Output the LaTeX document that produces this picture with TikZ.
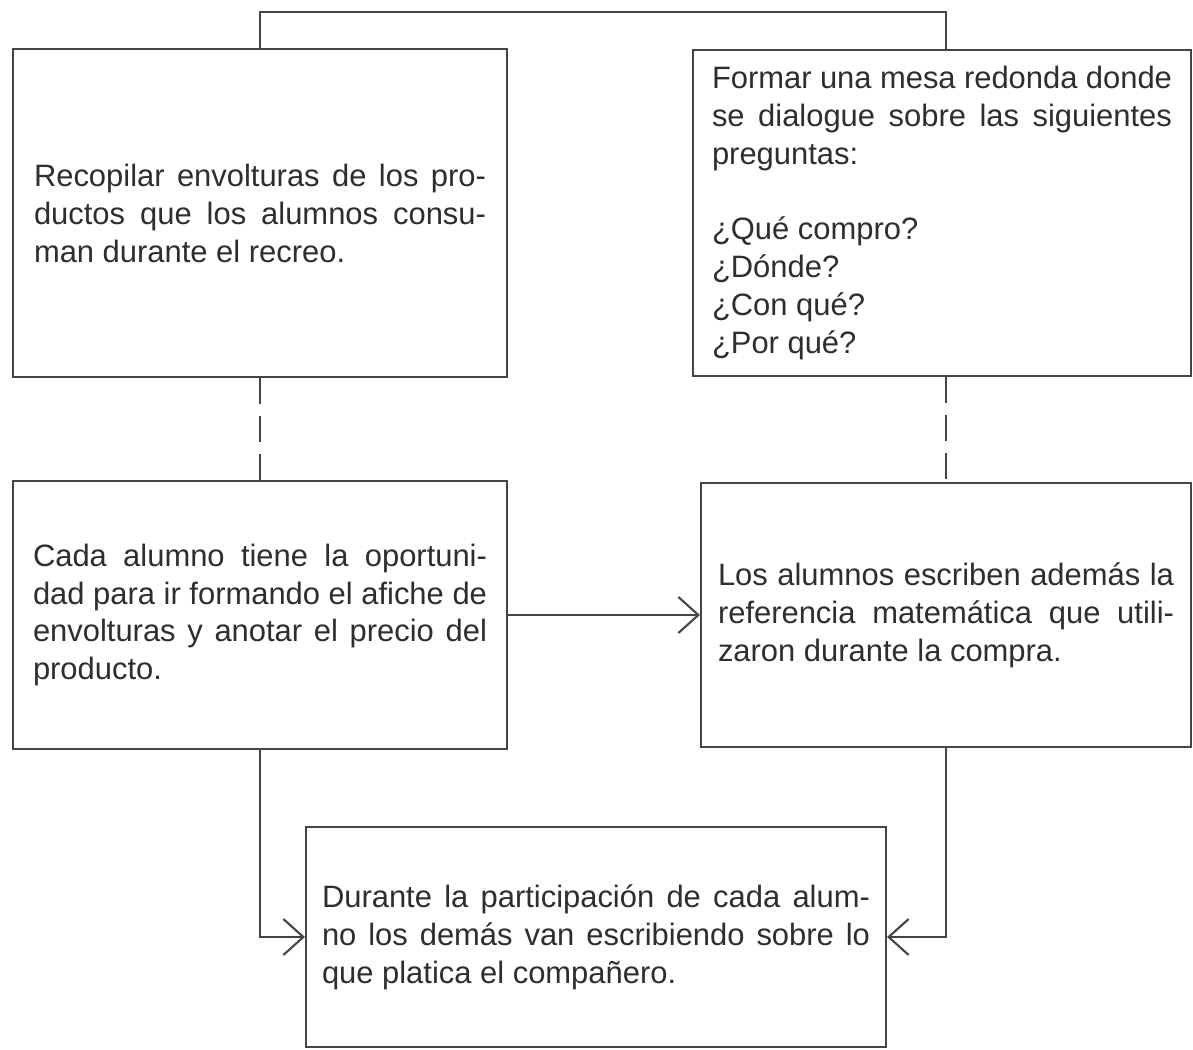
\documentclass[tikz,border=0pt]{standalone}
\usepackage{fontspec}
\setmainfont{Liberation Sans}
\usepackage{xcolor}
\usepackage{tikz}
\usetikzlibrary{arrows.meta, positioning, calc}

\definecolor{linegray}{HTML}{444444}
\definecolor{textgray}{HTML}{2E2E2E}

\begin{document}
\begin{tikzpicture}[
  >={Straight Barb[length=5mm, width=9mm]},
  line width=1.5pt,
  font=\fontsize{22}{27}\selectfont,
  pasobox/.style={
    draw=linegray, fill=white, text=textgray,
    align=justify, inner sep=0pt
  },
  conn/.style={draw=linegray, line width=1.5pt},
  dashline/.style={conn, dash pattern=on 0.65cm off 0.3cm},
  arr/.style={conn, ->}
]
\useasboundingbox (0,0) rectangle (29.825,26.225);

\node[pasobox, minimum width=12.35cm, minimum height=8.2cm, text width=11.3cm]
  (recopilar) at (6.5, 20.9) {%
  Recopilar envolturas de los pro-\linebreak
  ductos que los alumnos consu-\linebreak
  man durante el recreo.};

\node[pasobox, minimum width=12.45cm, minimum height=8.15cm, text width=11.5cm]
  (mesa) at (23.55, 20.9) {%
  Formar una mesa redonda donde\linebreak
  se dialogue sobre las siguientes\linebreak
  preguntas:\\[27pt]
  ¿Qué compro?\\
  ¿Dónde?\\
  ¿Con qué?\\
  ¿Por qué?};

\node[pasobox, minimum width=12.35cm, minimum height=6.7cm, text width=11.35cm]
  (afiche) at (6.5, 10.85) {%
  Cada alumno tiene la oportuni-\linebreak
  dad para ir formando el afiche de\linebreak
  envolturas y anotar el precio del\linebreak
  producto.};

\node[pasobox, minimum width=12.25cm, minimum height=6.6cm, text width=11.4cm]
  (referencia) at (23.65, 10.85) {%
  Los alumnos escriben además la\linebreak
  referencia matemática que utili-\linebreak
  zaron durante la compra.};

\node[pasobox, minimum width=14.5cm, minimum height=5.5cm, text width=13.7cm]
  (participa) at (14.9, 2.8) {%
  Durante la participación de cada alum-\linebreak
  no los demás van escribiendo sobre lo\linebreak
  que platica el compañero.};

% union de arriba
\draw[conn] (recopilar.north) -- ++(0,0.9) -| (mesa.north -| referencia.north);

% lineas punteadas
\draw[dashline] (recopilar.south) -- (afiche.north);
\draw[dashline] (mesa.south -| referencia.north) -- (referencia.north);

\draw[arr] (afiche.east) -- (referencia.west);

\draw[arr] (afiche.south) |- (participa.west);
\draw[arr] (referencia.south) |- (participa.east);

\end{tikzpicture}
\end{document}
